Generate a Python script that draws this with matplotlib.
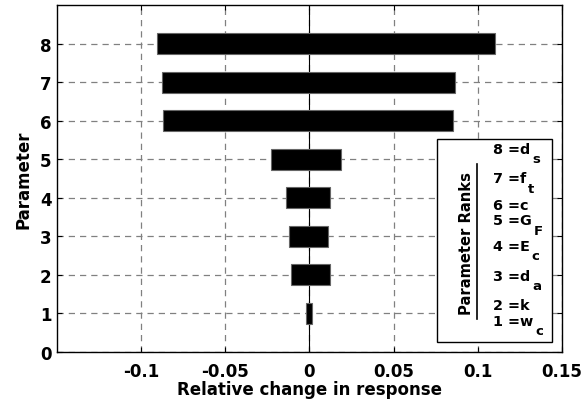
import numpy as np
import matplotlib
matplotlib.use('Agg')
import matplotlib.pyplot as plt
from matplotlib.patches import Rectangle
from matplotlib.lines import Line2D

plt.rcParams['font.family'] = ['DejaVu Sans']
plt.rcParams['font.weight'] = 'bold'

# Sensitivity data (rank, low and high relative change)
ranks = [1, 2, 3, 4, 5, 6, 7, 8]
low_change = [-0.0019, -0.0108, -0.0120, -0.0140, -0.0231, -0.0871, -0.0877, -0.0903]
high_change = [0.0013, 0.0120, 0.0108, 0.0120, 0.0187, 0.0853, 0.0865, 0.1100]

# rank box entries: main text and subscript
rank_main = ['8 =d', '7 =f', '6 =c', '5 =G', '4 =E', '3 =d', '2 =k', '1 =w']
rank_sub = ['s', 't', '', 'F', 'c', 'a', '', 'c']

xticks = [-0.1, -0.05, 0, 0.05, 0.1, 0.15]
xticklabels = ['-0.1', '-0.05', '0', '0.05', '0.1', '0.15']
yticks = [0, 1, 2, 3, 4, 5, 6, 7, 8]

fig = plt.figure(figsize=(5.87, 4.02), dpi=100)
ax = fig.add_axes([0.0971, 0.1219, 0.860, 0.862])

widths = np.array(high_change) - np.array(low_change)
ax.barh(ranks, widths, left=low_change, height=0.545, color='black',
        edgecolor='#666666', linewidth=0.8, zorder=3)
ax.axvline(0, color='black', linewidth=0.8, zorder=2)

ax.set_xlim(-0.15, 0.15)
ax.set_ylim(0, 9)
ax.set_xticks(xticks)
ax.set_xticklabels(xticklabels)
ax.set_yticks(yticks)
ax.tick_params(direction='in', length=3.6, width=0.8, top=True, right=True,
               labelsize=12)
ax.tick_params(axis='x', pad=7)
ax.tick_params(axis='y', pad=4)
ax.grid(True, linestyle=(0, (5, 4)), color='#808080', linewidth=0.9)
ax.set_axisbelow(True)
for s in ax.spines.values():
    s.set_linewidth(1.0)

ax.set_xlabel('Relative change in response', fontsize=12, fontweight='bold', labelpad=0)
ax.set_ylabel('Parameter', fontsize=12, fontweight='bold', labelpad=5)

# box with the parameter ranks
box = Rectangle((0.752, 0.028), 0.228, 0.587, transform=ax.transAxes,
                facecolor='white', edgecolor='black', linewidth=1.0, zorder=5)
ax.add_patch(box)
ax.text(0.811, 0.317, 'Parameter Ranks', transform=ax.transAxes, rotation=90,
        ha='center', va='center', fontsize=10.6, fontweight='bold', zorder=6)
ax.add_line(Line2D([0.831, 0.831], [0.095, 0.543], transform=ax.transAxes,
                   color='black', linewidth=1.2, zorder=6))
row_y = [0.574, 0.490, 0.412, 0.368, 0.295, 0.208, 0.124, 0.079]
for main, sub, yy in zip(rank_main, rank_sub, row_y):
    t = ax.text(0.864, yy, main, transform=ax.transAxes, ha='left', va='baseline',
                fontsize=10.4, fontweight='bold', zorder=6)
    if sub:
        ax.annotate(sub, xy=(1, 0), xycoords=t, xytext=(1.2, 2.6),
                    textcoords='offset points', ha='left', va='top',
                    fontsize=9.5, fontweight='bold', zorder=6)

fig.savefig('out.png', dpi=100)
